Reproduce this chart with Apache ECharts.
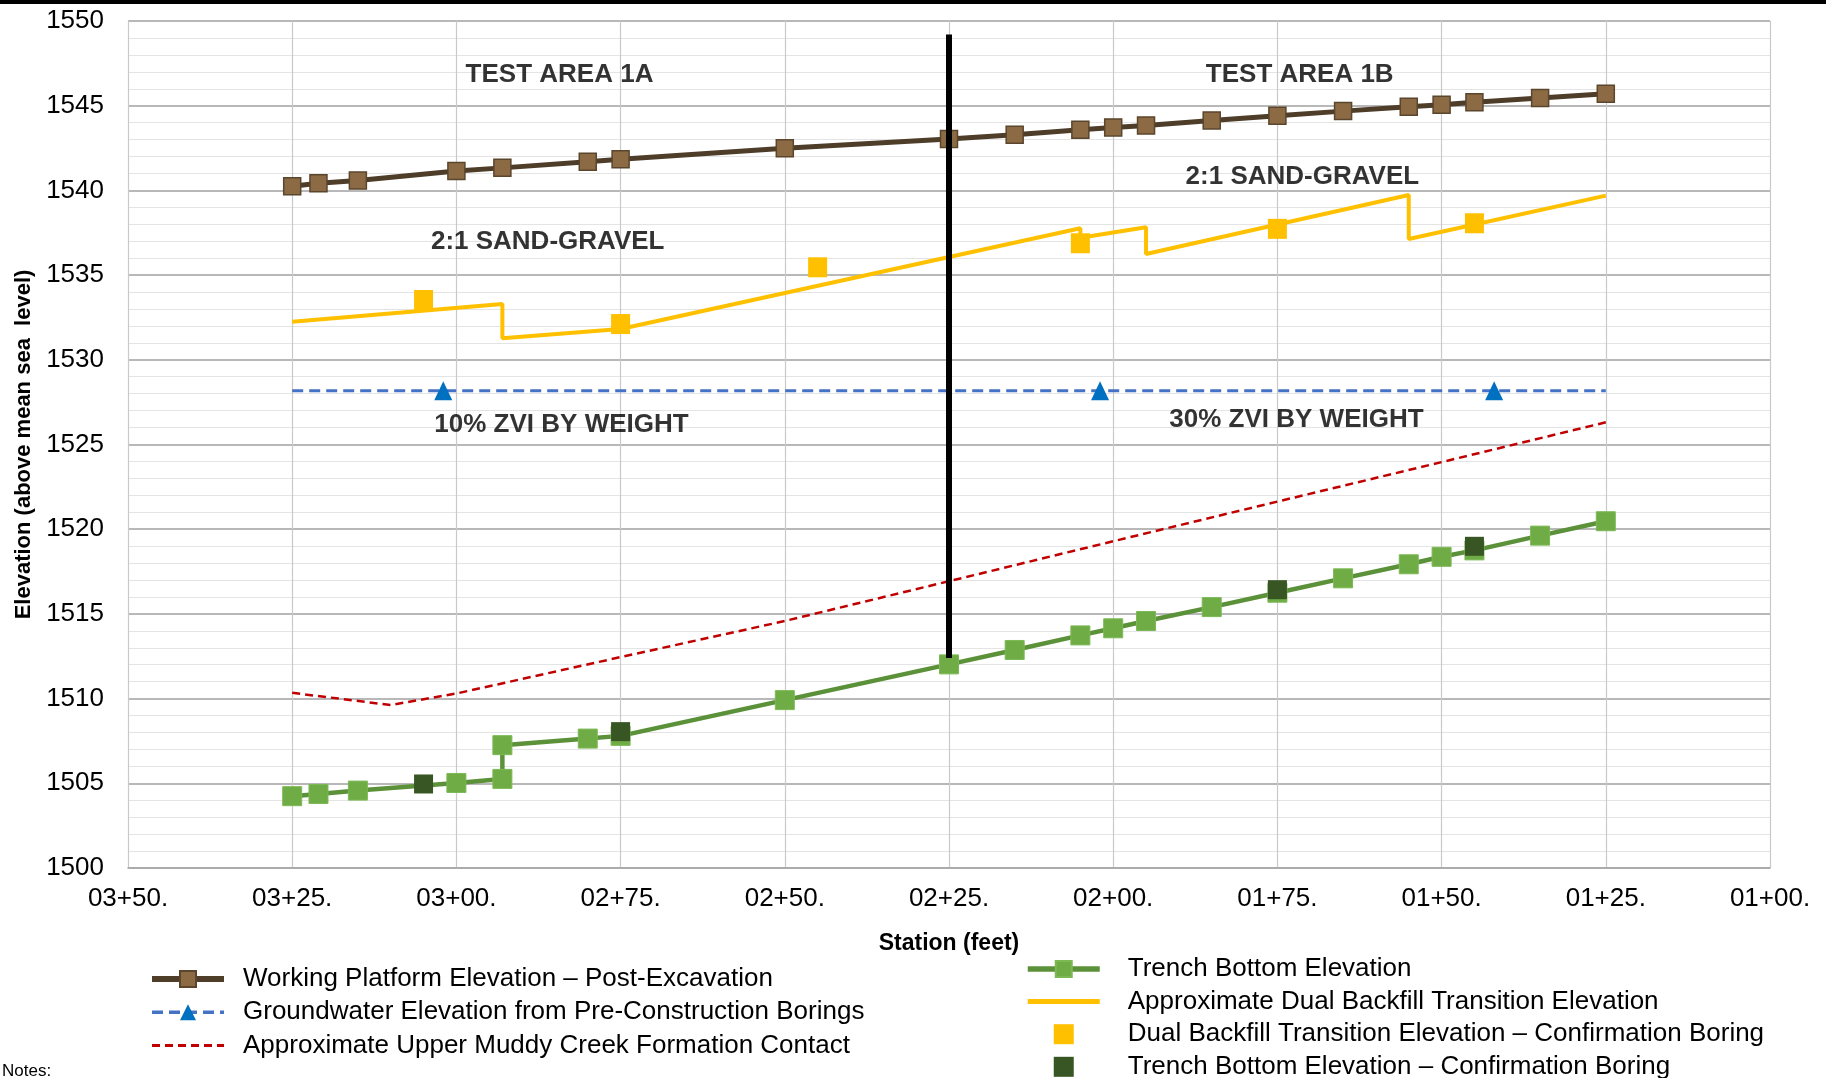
<!DOCTYPE html>
<html>
<head>
<meta charset="utf-8">
<title>Trench profile</title>
<script src="https://cdn.jsdelivr.net/npm/echarts@6/dist/echarts.min.js"></script>
<style>
  html, body { margin: 0; padding: 0; background: #fff; }
  #chart { width: 1826px; height: 1078px; }
</style>
</head>
<body>
<div id="chart"></div>
<script>
// stations in feet (03+25. = 325), elevations in ft above msl
const platformStation = [325, 321, 315, 300, 293, 280, 275, 250, 225, 215, 205, 200, 195, 185, 175, 165, 155, 150, 145, 135, 125];
const platformElev = [1540.25, 1540.42, 1540.58, 1541.15, 1541.33, 1541.69, 1541.84, 1542.49, 1543.03, 1543.28, 1543.58, 1543.72, 1543.83, 1544.13, 1544.41, 1544.68, 1544.94, 1545.06, 1545.2, 1545.46, 1545.71];

const trenchStation = [325, 321, 315, 300, 293, 293, 280, 275, 250, 225, 215, 205, 200, 195, 185, 175, 165, 155, 150, 145, 135, 125];
const trenchElev = [1504.24, 1504.37, 1504.57, 1505.02, 1505.26, 1507.25, 1507.64, 1507.8, 1509.91, 1512.02, 1512.87, 1513.73, 1514.15, 1514.58, 1515.4, 1516.25, 1517.1, 1517.93, 1518.37, 1518.75, 1519.62, 1520.47];

const groundwaterStation = [325, 302, 202, 142, 125];
const groundwaterElev = [1528.17, 1528.17, 1528.17, 1528.17, 1528.17];
const groundwaterBorings = [302, 202, 142]; // stations with a triangle

const muddyStation = [325, 310, 300, 275, 250, 225, 200, 175, 150, 125];
const muddyElev = [1510.34, 1509.62, 1510.3, 1512.45, 1514.58, 1516.93, 1519.29, 1521.63, 1523.96, 1526.31];

const backfillStation = [325, 293, 293, 275, 205, 205, 195, 195, 155, 155, 125];
const backfillElev = [1532.25, 1533.29, 1531.27, 1531.82, 1537.77, 1537.2, 1537.83, 1536.25, 1539.73, 1537.13, 1539.69];

const backfillBoringStation = [305, 275, 245, 205, 175, 145];
const backfillBoringElev = [1533.53, 1532.11, 1535.46, 1536.88, 1537.73, 1538.06];

const trenchBoringStation = [305, 275, 175, 145];
const trenchBoringElev = [1504.96, 1508.05, 1516.43, 1518.99];

const dividerStation = [225, 225];
const dividerElev = [1549.2, 1512.4];

const noteText = ['TEST AREA 1A', 'TEST AREA 1B', '2:1 SAND-GRAVEL', '2:1 SAND-GRAVEL', '10% ZVI BY WEIGHT', '30% ZVI BY WEIGHT'];
const noteStation = [284.3, 171.6, 286.1, 171.2, 284, 172.1];
const noteElev = [1546.82, 1546.82, 1536.98, 1540.82, 1526.16, 1526.46];

const NAMES = {
    platform: 'Working Platform Elevation \u2013 Post-Excavation',
    groundwater: 'Groundwater Elevation from Pre-Construction Borings',
    muddy: 'Approximate Upper Muddy Creek Formation Contact',
    trench: 'Trench Bottom Elevation',
    backfill: 'Approximate Dual Backfill Transition Elevation',
    backfillBoring: 'Dual Backfill Transition Elevation \u2013 Confirmation Boring',
    trenchBoring: 'Trench Bottom Elevation \u2013 Confirmation Boring'
};

function zip(xs, ys) {
    return xs.map((x, i) => [x, ys[i]]);
}

function stationLabel(v) {
    const hundreds = Math.floor(v / 100);
    const rest = v % 100;
    return '0' + hundreds + '+' + (rest < 10 ? '0' : '') + rest + '.';
}

const FONT = 'Liberation Sans';
const squareIcon = 'path://M0,0H10V10H0Z';
// line-only legend entries: hide the marker the line legend icon adds
const noMarker = { opacity: 0 };

var chart = echarts.init(document.getElementById('chart'));

var option = {
    animation: false,
    backgroundColor: '#fff',
    textStyle: { fontFamily: FONT },
    grid: { left: 128, right: 56, top: 21, bottom: 210 },
    xAxis: {
        type: 'value',
        inverse: true,
        min: 100,
        max: 350,
        interval: 25,
        name: 'Station (feet)',
        nameLocation: 'middle',
        nameGap: 64,
        nameTextStyle: { fontFamily: FONT, fontSize: 23, fontWeight: 'bold', color: '#000' },
        axisLine: { lineStyle: { color: '#a6a6a6', width: 1.5 } },
        axisTick: { show: false },
        axisLabel: { formatter: stationLabel, fontSize: 26, color: '#000', margin: 18, fontFamily: FONT },
        splitLine: { show: true, lineStyle: { color: '#c9c9c9', width: 1.2 } }
    },
    yAxis: {
        type: 'value',
        min: 1500,
        max: 1550,
        interval: 5,
        name: 'Elevation (above mean sea  level)',
        nameLocation: 'middle',
        nameGap: 92,
        nameTextStyle: { fontFamily: FONT, fontSize: 22, fontWeight: 'bold', color: '#000' },
        axisLine: { show: true, lineStyle: { color: '#c9c9c9' } },
        axisTick: { show: false },
        axisLabel: { formatter: v => String(v), fontSize: 26, color: '#000', margin: 24, fontFamily: FONT },
        splitLine: { show: true, lineStyle: { color: '#a0a0a0', width: 1.5 } },
        minorTick: { show: false, splitNumber: 5 },
        minorSplitLine: { show: true, lineStyle: { color: '#e4e4e4', width: 1.2 } }
    },
    legend: [
        {
            data: [
                { name: NAMES.platform, lineStyle: { width: 6 } },
                { name: NAMES.groundwater, lineStyle: { width: 3.5 } },
                { name: NAMES.muddy, itemStyle: noMarker, lineStyle: { width: 3 } }
            ],
            orient: 'vertical',
            left: 149,
            top: 965,
            height: 140,
            padding: 0,
            itemWidth: 72,
            itemHeight: 20,
            itemGap: 5.2,
            selectedMode: false,
            symbolKeepAspect: true,
            textStyle: { fontFamily: FONT, fontSize: 26, lineHeight: 28, color: '#000', padding: [0, 0, 0, 14] }
        },
        {
            data: [
                { name: NAMES.trench, lineStyle: { width: 5.5 } },
                { name: NAMES.backfill, itemStyle: noMarker, lineStyle: { width: 5 } },
                { name: NAMES.backfillBoring, icon: squareIcon },
                { name: NAMES.trenchBoring, icon: squareIcon }
            ],
            orient: 'vertical',
            left: 1025,
            top: 955,
            height: 140,
            padding: 0,
            itemWidth: 72,
            itemHeight: 20,
            itemGap: 4.6,
            selectedMode: false,
            symbolKeepAspect: true,
            textStyle: { fontFamily: FONT, fontSize: 26, lineHeight: 28, color: '#000', padding: [0, 0, 0, 23] }
        }
    ],
    graphic: [
        { type: 'rect', left: 0, top: 0, shape: { width: 1826, height: 4 }, style: { fill: '#000' } },
        { type: 'text', left: 2, top: 1063, style: { text: 'Notes:', fontSize: 17, fontFamily: FONT, fill: '#000' } }
    ],
    series: [
        {
            name: NAMES.muddy,
            type: 'line',
            data: zip(muddyStation, muddyElev),
            symbol: 'none',
            lineStyle: { color: '#c00000', width: 2.5, type: [8, 5] },
            itemStyle: { color: '#c00000' },
            z: 2
        },
        {
            name: NAMES.groundwater,
            type: 'line',
            data: zip(groundwaterStation, groundwaterElev).map(p => ({
                value: p,
                symbol: groundwaterBorings.indexOf(p[0]) >= 0 ? 'triangle' : 'none'
            })),
            symbol: 'triangle',
            symbolSize: [18, 19],
            lineStyle: { color: '#4472c4', width: 3, type: [11, 6] },
            itemStyle: { color: '#0070c0' },
            z: 3
        },
        {
            name: NAMES.backfill,
            type: 'line',
            data: zip(backfillStation, backfillElev),
            symbol: 'none',
            lineStyle: { color: '#ffc000', width: 4 },
            itemStyle: { color: '#ffc000' },
            z: 3
        },
        {
            name: NAMES.backfillBoring,
            type: 'scatter',
            data: zip(backfillBoringStation, backfillBoringElev),
            symbol: 'rect',
            symbolSize: [19, 20],
            itemStyle: { color: '#ffc000', opacity: 1 },
            z: 4
        },
        {
            name: NAMES.trench,
            type: 'line',
            data: zip(trenchStation, trenchElev),
            symbol: 'rect',
            symbolSize: 19,
            showAllSymbol: true,
            lineStyle: { color: '#5b9139', width: 4.5 },
            itemStyle: { color: '#6fac46', borderColor: '#7cb955', borderWidth: 1 },
            z: 4
        },
        {
            name: NAMES.trenchBoring,
            type: 'scatter',
            data: zip(trenchBoringStation, trenchBoringElev),
            symbol: 'rect',
            symbolSize: 19,
            itemStyle: { color: '#375623', opacity: 1 },
            z: 5
        },
        {
            name: NAMES.platform,
            type: 'line',
            data: zip(platformStation, platformElev),
            symbol: 'rect',
            symbolSize: 17,
            showAllSymbol: true,
            lineStyle: { color: '#4e3d29', width: 5 },
            itemStyle: { color: '#8c6b44', borderColor: '#5a452d', borderWidth: 1.5 },
            z: 4
        },
        {
            name: 'divider',
            type: 'line',
            data: zip(dividerStation, dividerElev),
            symbol: 'none',
            lineStyle: { color: '#000', width: 6 },
            z: 6
        },
        {
            name: 'notes',
            type: 'scatter',
            data: noteText.map((t, i) => ({ name: t, value: [noteStation[i], noteElev[i]] })),
            symbolSize: 0,
            silent: true,
            label: {
                show: true,
                position: 'inside',
                formatter: '{b}',
                fontFamily: FONT,
                fontSize: 26,
                fontWeight: 'bold',
                color: '#000'
            },
            z: 7
        }
    ]
};

chart.setOption(option);
</script>
</body>
</html>
